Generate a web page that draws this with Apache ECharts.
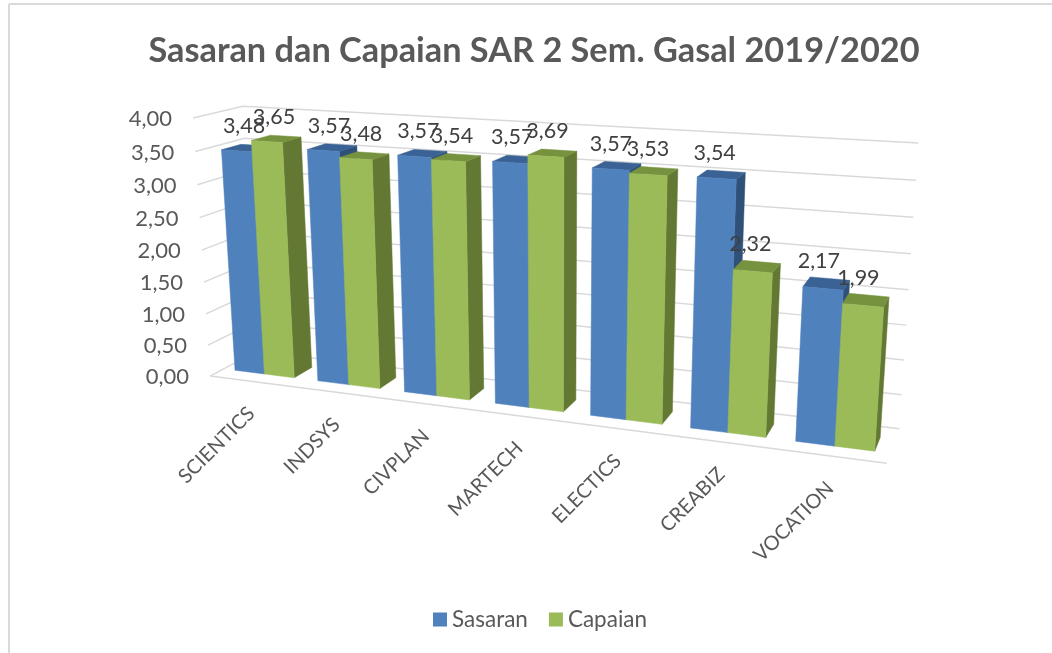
<!DOCTYPE html>
<html><head><meta charset="utf-8">
<style>html,body{margin:0;padding:0;background:#fff}#c{width:1052px;height:653px}</style>
<script src="https://cdn.jsdelivr.net/npm/echarts@6/dist/echarts.min.js"></script>
</head><body><div id="c"></div>
<script>
const categories = ['SCIENTICS','INDSYS','CIVPLAN','MARTECH','ELECTICS','CREABIZ','VOCATION'];
const sasaran = [3.48,3.57,3.57,3.57,3.57,3.54,2.17];
const capaian = [3.65,3.48,3.54,3.69,3.53,2.32,1.99];
const yTicks = [0,0.5,1,1.5,2,2.5,3,3.5,4];
const FONT = 'Lato, "Open Sans", sans-serif';

// Camera calibration: plot-box corners (x,y,depth in 0..1) and where they appear on the page.
const calib = [
 [0,0,0,210,376],[0,1,0,193,118],[0,1,1,243,106],[1,1,1,918,143],[1,0,1,899,429],[1,0,0,887,463],
 [0,0.5,0,202,250],[1,0.5,1,909,290],[0,0.875,0,195,152],[1,0.875,1,916,180]
];
function fitCamera(pts){
  const n=11, A=Array.from({length:n},()=>new Array(n+1).fill(0));
  const add=(r,b)=>{for(let i=0;i<n;i++){for(let j=0;j<n;j++)A[i][j]+=r[i]*r[j];A[i][n]+=r[i]*b;}};
  pts.forEach(([X,Y,Z,u0,v0])=>{const u=u0/1000,v=v0/1000;
    add([X,Y,Z,1,0,0,0,0,-u*X,-u*Y,-u*Z],u);
    add([0,0,0,0,X,Y,Z,1,-v*X,-v*Y,-v*Z],v);});
  for(let i=0;i<n;i++){let m=i;for(let k=i+1;k<n;k++)if(Math.abs(A[k][i])>Math.abs(A[m][i]))m=k;
    [A[i],A[m]]=[A[m],A[i]];
    for(let k=0;k<n;k++)if(k!==i){const f=A[k][i]/A[i][i];for(let j=i;j<=n;j++)A[k][j]-=f*A[i][j];}}
  return A.map((r,i)=>r[n]/r[i]);
}
const P = fitCamera(calib);
function proj(X,Y,Z){
  const w=P[8]*X+P[9]*Y+P[10]*Z+1;
  return [1000*(P[0]*X+P[1]*Y+P[2]*Z+P[3])/w, 1000*(P[4]*X+P[5]*Y+P[6]*Z+P[7])/w];
}
const BAR_SPAN=0.72, Z_FRONT=0.28, Z_BACK=0.68;

function norm(params,api,cat,val){
  const r=params.coordSys, c=api.coord([cat,val]);
  return [(c[0]-r.x)/r.width, 1-(c[1]-r.y)/r.height, api.size([1,0])[0]/r.width];
}
function poly(points,fill,stroke){
  return {type:'polygon',shape:{points},style:{fill,stroke:stroke||fill,lineWidth:0.5}};
}
function barRender(side,front,topc,sideC){
  return function(params,api){
    const i=api.value(0), v=api.value(1);
    const [cx,Y,bw]=norm(params,api,i,v);
    const x0=side===0?cx-bw*BAR_SPAN/2:cx, x1=side===0?cx:cx+bw*BAR_SPAN/2;
    const zf=Z_FRONT,zb=Z_BACK;
    const a=proj(x0,0,zf),b=proj(x1,0,zf),c=proj(x1,Y,zf),d=proj(x0,Y,zf);
    const e=proj(x1,0,zb),f=proj(x1,Y,zb),g=proj(x0,Y,zb);
    const lab=proj((x0+x1)/2,Y,(zf+zb)/2);
    return {type:'group',children:[
      poly([b,e,f,c],sideC),
      poly([d,c,f,g],topc),
      poly([a,b,c,d],front),
      {type:'text',style:{text:v.toFixed(2).replace('.',','),x:lab[0]-2-6*cx,y:lab[1]-22,align:'center',verticalAlign:'middle',font:'21.5px '+FONT,fill:'#404040'}}
    ]};
  };
}
function wallRender(params,api){
  const v=api.value(0), [,Y]=norm(params,api,0,v);
  const a=proj(0,Y,0),b=proj(0,Y,1),c=proj(1,Y,1);
  const kids=[{type:'polyline',shape:{points:[a,b,c]},style:{fill:'none',stroke:'#D9D9D9',lineWidth:1.5}}];
  if(v===0){const d=proj(1,0,0);kids.push({type:'line',shape:{x1:a[0],y1:a[1],x2:d[0],y2:d[1]},style:{stroke:'#D9D9D9',lineWidth:1.5}});}
  kids.push({type:'text',style:{text:v.toFixed(2).replace('.',','),x:a[0]-21,y:a[1]+1,align:'right',verticalAlign:'middle',font:'22px '+FONT,fill:'#595959'}});
  return {type:'group',children:kids};
}
function catRender(params,api){
  const i=api.value(0), [cx]=norm(params,api,i,0), p=proj(cx,0,0);
  return {type:'text',x:p[0],y:p[1]+29,rotation:Math.PI/4,style:{text:categories[i],x:0,y:0,align:'right',verticalAlign:'middle',font:'20px '+FONT,fill:'#595959'}};
}
const chart=echarts.init(document.getElementById('c'),null,{renderer:'canvas'});
chart.setOption({
  animation:false,backgroundColor:'#fff',
  title:{text:'Sasaran dan Capaian SAR 2 Sem. Gasal 2019/2020',left:529,top:29,textAlign:'center',
    textStyle:{fontFamily:FONT,fontWeight:'bold',fontSize:34.3,color:'#595959'}},
  legend:{data:['Sasaran','Capaian'],left:428,top:603,icon:'rect',itemWidth:14,itemHeight:14,itemGap:21,
    textStyle:{fontFamily:FONT,fontSize:22.5,color:'#595959'}},
  grid:{left:210,top:118,width:680,height:258},
  xAxis:{type:'category',data:categories,show:false},
  yAxis:{type:'value',min:0,max:4,interval:0.5,show:false},
  graphic:[
    {type:'line',shape:{x1:9,y1:4,x2:1052,y2:4},style:{stroke:'#D9D9D9',lineWidth:2}},
    {type:'line',shape:{x1:9,y1:4,x2:9,y2:653},style:{stroke:'#D9D9D9',lineWidth:2}}
  ],
  series:[
    {type:'custom',name:'walls',silent:true,clip:false,data:yTicks.map(v=>[v]),encode:{y:0},renderItem:wallRender,tooltip:{show:false}},
    {type:'custom',name:'cats',silent:true,clip:false,data:categories.map((c,i)=>[i]),encode:{x:0},renderItem:catRender},
    {type:'custom',name:'Sasaran',clip:false,itemStyle:{color:'#4F81BD'},data:sasaran.map((v,i)=>[i,v]),encode:{x:0,y:1},
      renderItem:barRender(0,'#4F81BD','#3A6294','#2F5078')},
    {type:'custom',name:'Capaian',clip:false,itemStyle:{color:'#9BBB59'},data:capaian.map((v,i)=>[i,v]),encode:{x:0,y:1},
      renderItem:barRender(1,'#9BBB59','#76923F','#637833')}
  ]
});
</script></body></html>
